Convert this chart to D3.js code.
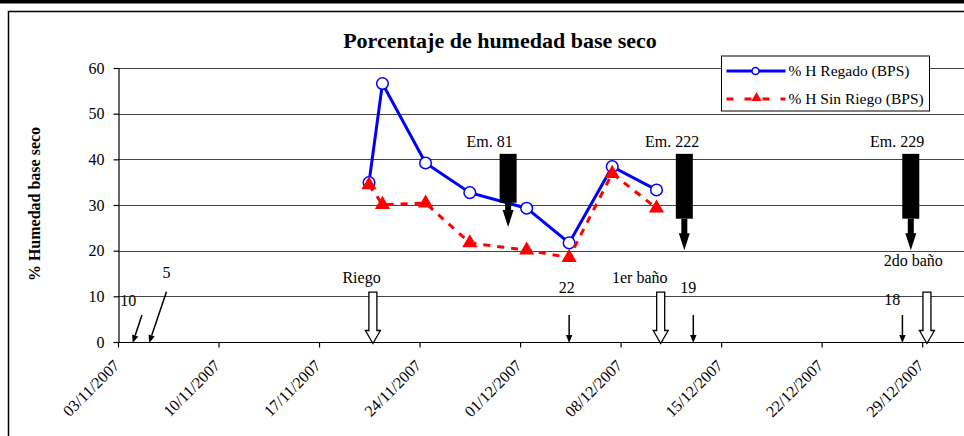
<!DOCTYPE html>
<html>
<head>
<meta charset="utf-8">
<script src="https://cdn.jsdelivr.net/npm/d3@7"></script>
<style>
body { margin: 0; background: #fff; }
svg text { font-family: "Liberation Serif", "Times New Roman", serif; fill: #000; }
</style>
</head>
<body>
<div id="vis-svg"></div>
<script>
var w = 964;
var h = 436;

// muestreos (fecha y hora aproximada de cada punto)
var fechas = ["2007-11-20T11:30", "2007-11-21T10:00", "2007-11-24T10:00", "2007-11-27T12:00",
              "2007-12-01T11:00", "2007-12-04T10:00", "2007-12-07T10:00", "2007-12-10T12:00"];
var regado = [34.9, 56.6, 39.2, 32.7, 29.3, 21.7, 38.4, 33.3];
var sinRiego = [34.4, 30.1, 30.4, 21.7, 20.1, 18.5, 36.9, 29.3];

var yTicks = [0, 10, 20, 30, 40, 50, 60];
var xTicks = ["03/11/2007", "10/11/2007", "17/11/2007", "24/11/2007", "01/12/2007",
              "08/12/2007", "15/12/2007", "22/12/2007", "29/12/2007"];

// flechas finas (conteos)
var conteoFechas = ["2007-11-04T00:30", "2007-11-05T04:00", "2007-12-04T10:00", "2007-12-13T01:30", "2007-12-27T15:00"];
var conteoDesde = ["2007-11-04T16:00", "2007-11-06T09:00", "2007-12-04T10:00", "2007-12-13T01:30", "2007-12-27T15:00"];
var conteoDesdeValor = [5.9, 11, 5.9, 5.9, 5.9];
var conteoTextos = ["10", "5", "22", "19", "18"];
var conteoTextoFechas = ["2007-11-03T17:00", "2007-11-06T09:00", "2007-12-04T06:00", "2007-12-12T17:00", "2007-12-26T22:00"];
var conteoTextoValor = [7.9, 14.0, 10.7, 10.7, 8.1];

// flechas huecas (riego / baños)
var riegoFechas = ["2007-11-20T18:00", "2007-12-10T19:00", "2007-12-29T08:00"];
var riegoTextos = ["Riego", "1er baño", "2do baño"];
var riegoTextoFechas = ["2007-11-19T23:00", "2007-12-09T08:00", "2007-12-28T09:00"];
var riegoTextoValor = [13, 13, 16.6];

// flechas negras (emergencias)
var emFechas = ["2007-11-30T04:00", "2007-12-12T10:30", "2007-12-28T05:00"];
var emTextos = ["Em. 81", "Em. 222", "Em. 229"];
var emTextoFechas = ["2007-11-28T21:00", "2007-12-11T14:00", "2007-12-27T06:00"];
var emTope = [41.2, 41.2, 41.2];
var emBase = [30.5, 27, 27];
var emPunta = [25.2, 20.1, 20.1];
var emTextoValor = 42.7;

var parseT = d3.timeParse("%Y-%m-%dT%H:%M");
var parseD = d3.timeParse("%d/%m/%Y");

var x = d3.scaleTime()
    .domain([parseD("03/11/2007"), parseD("05/01/2008")])
    .range([118, 118 + 63 * 14.36]);
var y = d3.scaleLinear().domain([0, 60]).range([342, 68]);

var canvas = d3.select("#vis-svg").append("svg")
    .attr("width", w)
    .attr("height", h);

// marco
canvas.append("rect").attr("x", 0).attr("y", 0).attr("width", w).attr("height", 3.5).attr("fill", "#000");
canvas.append("path").attr("d", "M8.5," + h + "V11.5H" + w)
    .attr("fill", "none").attr("stroke", "#000").attr("stroke-width", 1.5);

// titulo
canvas.append("text")
    .attr("x", 500).attr("y", 48)
    .attr("text-anchor", "middle")
    .style("font-size", "22px").style("font-weight", "bold")
    .text("Porcentaje de humedad base seco");

canvas.append("text")
    .attr("transform", "translate(40,204) rotate(-90)")
    .attr("text-anchor", "middle")
    .style("font-size", "16px").style("font-weight", "bold")
    .text("% Humedad base seco");

// grilla
canvas.append("g").selectAll("line")
    .data(yTicks.slice(1))
    .enter().append("line")
    .attr("x1", 118).attr("x2", w)
    .attr("y1", d => Math.round(y(d)) + 0.5).attr("y2", d => Math.round(y(d)) + 0.5)
    .attr("stroke", "#444").attr("stroke-width", 1);

// ejes
var yAxis = canvas.append("g")
    .attr("transform", "translate(118.5,0)")
    .call(d3.axisLeft(y).tickValues(yTicks).tickSize(5).tickSizeOuter(0).tickPadding(9));
yAxis.selectAll("text").style("font-size", "16px").style("font-family", "Liberation Serif");

var xAxis = canvas.append("g")
    .attr("transform", "translate(0,342.5)")
    .call(d3.axisBottom(x).tickValues(xTicks.map(parseD)).tickSize(5).tickSizeOuter(0)
        .tickFormat(d3.timeFormat("%d/%m/%Y")));
xAxis.select(".domain").attr("d", "M118," + 0 + "H" + w);
xAxis.selectAll("text")
    .style("font-size", "16px").style("font-family", "Liberation Serif")
    .attr("text-anchor", "end")
    .attr("dy", null).attr("y", 0)
    .attr("transform", "translate(2,24) rotate(-45)");
canvas.selectAll(".domain, .tick line").attr("stroke", "#000").attr("stroke-width", 1.2);

// flechas finas
var conteo = canvas.append("g");
conteoFechas.forEach(function(f, i) {
    var x1 = x(parseT(conteoDesde[i])), y1 = y(conteoDesdeValor[i]);
    var x2 = x(parseT(f)), y2 = y(0) + 1;
    var ang = Math.atan2(y2 - y1, x2 - x1);
    var hl = 8, hw = 3.2;
    var bx = x2 - hl * Math.cos(ang), by = y2 - hl * Math.sin(ang);
    conteo.append("line")
        .attr("x1", x1).attr("y1", y1).attr("x2", bx).attr("y2", by)
        .attr("stroke", "#000").attr("stroke-width", 1.5);
    conteo.append("path")
        .attr("d", "M" + x2 + "," + y2 +
            "L" + (bx + hw * Math.sin(ang)) + "," + (by - hw * Math.cos(ang)) +
            "L" + (bx - hw * Math.sin(ang)) + "," + (by + hw * Math.cos(ang)) + "Z")
        .attr("fill", "#000");
    conteo.append("text")
        .attr("x", x(parseT(conteoTextoFechas[i]))).attr("y", y(conteoTextoValor[i]))
        .attr("text-anchor", "middle").style("font-size", "16px")
        .text(conteoTextos[i]);
});

// flechas huecas
var riego = canvas.append("g");
riegoFechas.forEach(function(f, i) {
    var cx = x(parseT(f));
    var top = y(10.9), tip = y(0) + 1.5, hs = tip - 13;
    riego.append("path")
        .attr("d", "M" + (cx - 4) + "," + top + "H" + (cx + 4) + "V" + hs + "H" + (cx + 7.5) +
            "L" + cx + "," + tip + "L" + (cx - 7.5) + "," + hs + "H" + (cx - 4) + "Z")
        .attr("fill", "#fff").attr("stroke", "#000").attr("stroke-width", 1.3);
    riego.append("text")
        .attr("x", x(parseT(riegoTextoFechas[i]))).attr("y", y(riegoTextoValor[i]))
        .attr("text-anchor", "middle").style("font-size", "16px")
        .text(riegoTextos[i]);
});

// series
var line = d3.line()
    .x((d, i) => x(parseT(fechas[i])))
    .y(d => y(d));

canvas.append("path")
    .datum(regado)
    .attr("d", line)
    .attr("fill", "none").attr("stroke", "#0000ff").attr("stroke-width", 3);
canvas.append("g").selectAll("circle")
    .data(regado)
    .enter().append("circle")
    .attr("cx", (d, i) => x(parseT(fechas[i])))
    .attr("cy", d => y(d))
    .attr("r", 5.8)
    .attr("fill", "#fff").attr("stroke", "#0000ff").attr("stroke-width", 1.5);

canvas.append("path")
    .datum(sinRiego)
    .attr("d", line)
    .attr("fill", "none").attr("stroke", "#ff0000").attr("stroke-width", 3)
    .attr("stroke-dasharray", "7,7");
var tri = d3.symbol().type(d3.symbolTriangle).size(100);
canvas.append("g").selectAll("path")
    .data(sinRiego)
    .enter().append("path")
    .attr("d", tri)
    .attr("transform", (d, i) => "translate(" + x(parseT(fechas[i])) + "," + y(d) + ")")
    .attr("fill", "#ff0000");

// flechas negras
var em = canvas.append("g");
emFechas.forEach(function(f, i) {
    var cx = x(parseT(f));
    var t = y(emTope[i]), b = y(emBase[i]), p = y(emPunta[i]);
    em.append("rect")
        .attr("x", cx - 8.5).attr("y", t).attr("width", 17).attr("height", b - t)
        .attr("fill", "#000");
    em.append("path")
        .attr("d", "M" + (cx - 3) + "," + b + "H" + (cx + 3) + "V" + (p - 17) + "H" + (cx + 5.5) +
            "L" + cx + "," + p + "L" + (cx - 5.5) + "," + (p - 17) + "H" + (cx - 3) + "Z")
        .attr("fill", "#000");
    em.append("text")
        .attr("x", x(parseT(emTextoFechas[i]))).attr("y", y(emTextoValor))
        .attr("text-anchor", "middle").style("font-size", "16px")
        .text(emTextos[i]);
});

// leyenda
var legend = canvas.append("g").attr("transform", "translate(721.5,56)");
legend.append("rect")
    .attr("width", 208).attr("height", 55)
    .attr("fill", "#fff").attr("stroke", "#000").attr("stroke-width", 1);
legend.append("line").attr("x1", 5).attr("x2", 64).attr("y1", 15).attr("y2", 15)
    .attr("stroke", "#0000ff").attr("stroke-width", 3);
legend.append("circle").attr("cx", 34).attr("cy", 15).attr("r", 3.5)
    .attr("fill", "#fff").attr("stroke", "#0000ff").attr("stroke-width", 1.5);
legend.append("line").attr("x1", 5).attr("x2", 64).attr("y1", 43).attr("y2", 43)
    .attr("stroke", "#ff0000").attr("stroke-width", 3).attr("stroke-dasharray", "7,11");
legend.append("path").attr("d", d3.symbol().type(d3.symbolTriangle).size(45))
    .attr("transform", "translate(35,42)").attr("fill", "#ff0000");
legend.append("text").attr("x", 67).attr("y", 20).style("font-size", "15.5px").text("% H Regado (BPS)");
legend.append("text").attr("x", 67).attr("y", 48).style("font-size", "15.5px").text("% H Sin Riego (BPS)");
</script>
</body>
</html>
